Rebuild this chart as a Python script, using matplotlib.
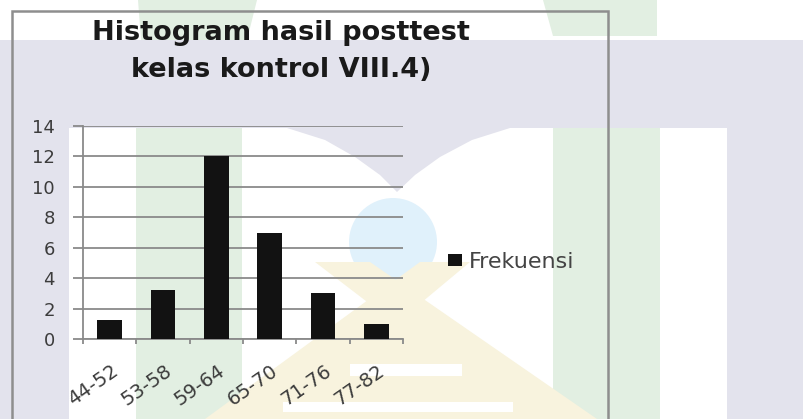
import matplotlib
matplotlib.use('Agg')
import matplotlib.pyplot as plt
from matplotlib.patches import Polygon, Rectangle, Ellipse
from matplotlib.transforms import ScaledTranslation

# data
kelas = ['44-52', '53-58', '59-64', '65-70', '71-76', '77-82']
frekuensi = [1.25, 3.2, 12, 7, 3, 1]
y_ticks = [0, 2, 4, 6, 8, 10, 12, 14]
judul_1 = 'Histogram hasil posttest'
judul_2 = 'kelas kontrol VIII.4)'
nama_seri = 'Frekuensi'

W, H = 804, 419
LAV = '#e3e3ed'
GREEN = '#e2efe2'
YELLOW = '#f8f3de'
BLUE = '#e0f1fb'


def px(pts):
    # pixel coords (origin top-left) -> figure fraction
    return [(x / W, 1 - y / H) for x, y in pts]


def poly(fig, pts, color, z):
    fig.add_artist(Polygon(px(pts), closed=True, transform=fig.transFigure,
                           facecolor=color, edgecolor='none', zorder=z))


def rect(fig, x0, y0, x1, y1, color, z):
    poly(fig, [(x0, y0), (x1, y0), (x1, y1), (x0, y1)], color, z)


def watermark(fig):
    # scanned page background with the faint logo behind the chart
    rect(fig, 0, 0, W, 40, 'white', 0.1)
    rect(fig, 69, 128, 727, H, 'white', 0.1)
    poly(fig, [(287, 128), (325, 140), (355, 157), (380, 175), (397, 192),
               (415, 175), (440, 157), (472, 140), (510, 128)], LAV, 0.2)
    rect(fig, 136, 128, 242, H, GREEN, 0.2)
    rect(fig, 553, 128, 660, H, GREEN, 0.2)
    poly(fig, [(138, 0), (257, 0), (247, 40), (141, 40)], GREEN, 0.2)
    poly(fig, [(543, 0), (657, 0), (657, 36), (553, 36)], GREEN, 0.2)
    fig.add_artist(Ellipse((393 / W, 1 - 242 / H), 88 / W, 88 / H,
                           transform=fig.transFigure, facecolor=BLUE,
                           edgecolor='none', zorder=0.3))
    poly(fig, [(315, 262), (370, 262), (597, 419), (520, 419)], YELLOW, 0.3)
    poly(fig, [(420, 262), (470, 262), (282, 419), (205, 419)], YELLOW, 0.3)
    poly(fig, [(395, 310), (540, 419), (262, 419)], YELLOW, 0.3)
    rect(fig, 350, 364, 462, 376, 'white', 0.35)
    rect(fig, 283, 402, 513, 412, 'white', 0.35)
    # chart frame
    fig.add_artist(Rectangle((12 / W, -0.05), (608 - 12) / W, 1.05 - 11 / H,
                             transform=fig.transFigure, facecolor='none',
                             edgecolor='#8e8e8e', linewidth=1.8, zorder=0.5))


fig = plt.figure(figsize=(W / 100, H / 100), dpi=100)
fig.patch.set_facecolor(LAV)
watermark(fig)

ax = fig.add_axes([83 / W, (H - 339) / H, 320 / W, 213 / H])
ax.set_zorder(2)
ax.patch.set_alpha(0)

x = range(len(kelas))
bars = ax.bar(x, frekuensi, width=0.46, color='#121212', label=nama_seri, zorder=3)

ax.set_xlim(-0.5, len(kelas) - 0.5)
ax.set_ylim(0, 14)
ax.set_yticks(y_ticks)
ax.yaxis.grid(True, color='#8a8a8a', linewidth=1.3)
ax.set_axisbelow(True)
for s in ['top', 'right']:
    ax.spines[s].set_visible(False)
for s in ['left', 'bottom']:
    ax.spines[s].set_color('#8a8a8a')
    ax.spines[s].set_linewidth(1.3)

ax.tick_params(axis='y', length=7.2, width=1.3, color='#8a8a8a', pad=13,
               labelsize=13, labelcolor='#3c3c3c')
ax.set_xticks(list(x))
ax.set_xticks([i - 0.5 for i in range(len(kelas) + 1)], minor=True)
ax.tick_params(axis='x', which='major', length=0, pad=16, labelsize=14,
               labelcolor='#3c3c3c')
ax.tick_params(axis='x', which='minor', length=3.6, width=1.3, color='#8a8a8a')
ax.set_xticklabels(kelas, rotation=35, ha='right', va='top', rotation_mode='anchor')
shift = ScaledTranslation(1 / 100, 0, fig.dpi_scale_trans)
for lab in ax.get_xticklabels():
    lab.set_transform(lab.get_transform() + shift)

fig.text(281 / W, 1 - 33 / H, judul_1, ha='center', va='center',
         fontsize=19.5, fontweight='bold', color='#1a1a1a')
fig.text(281 / W, 1 - 70 / H, judul_2, ha='center', va='center',
         fontsize=19.5, fontweight='bold', color='#1a1a1a')

fig.legend(handles=[bars], labels=[nama_seri], loc='center left',
           bbox_to_anchor=(448 / W, 1 - 262 / H), frameon=False, fontsize=16,
           labelcolor='#444444', borderpad=0, borderaxespad=0,
           handlelength=0.65, handleheight=0.45, handletextpad=0.3)

fig.savefig('out.png', dpi=100, facecolor=fig.get_facecolor())
